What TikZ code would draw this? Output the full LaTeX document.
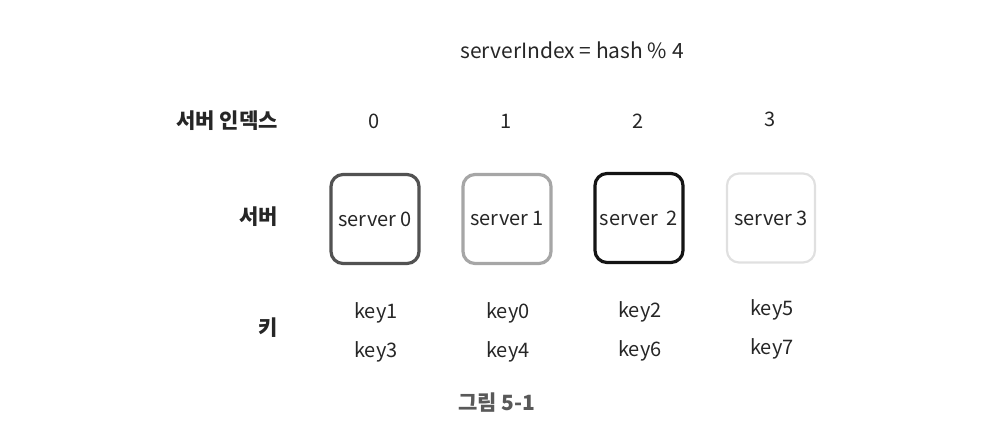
\documentclass[tikz,border=0pt]{standalone}
\usepackage{fontspec}
\setmainfont{Noto Sans CJK KR}
\begin{document}
\begin{tikzpicture}[x=1pt,y=-1pt,
  txt/.style={font=\fontsize{20}{24}\selectfont, inner sep=0pt, text=black!85},
  lbl/.style={font=\fontsize{21}{24}\selectfont\bfseries, inner sep=0pt, anchor=east, text=black!85},
  srv/.style={draw, rounded corners=12pt, minimum width=88pt, minimum height=89pt, inner sep=0pt, font=\fontsize{20}{24}\selectfont, text=black!85}]
\useasboundingbox (0,0) rectangle (996,446);
\node[txt, font=\fontsize{21}{24}\selectfont] (title) at (572,50) {serverIndex = hash \% 4};
\node[lbl] (lidx) at (278,121) {서버 인덱스};
\node[lbl] (lsrv) at (278,217) {서버};
\node[lbl] (lkey) at (278,328) {키};
\node[txt] (i0) at (374,121) {0};
\node[txt] (i1) at (506,121) {1};
\node[txt] (i2) at (638,121) {2};
\node[txt] (i3) at (770,119) {3};
\node[srv, draw=black!68, line width=3.2pt] (s0) at (375,219) {server 0};
\node[srv, draw=black!35, line width=3.2pt] (s1) at (507,219) {server 1};
\node[srv, draw=black!92, line width=3.2pt] (s2) at (639,218) {server\ \ 2};
\node[srv, draw=black!12, line width=2.2pt] (s3) at (771,218) {server 3};
\node[txt] (k1) at (376,313) {key1};
\node[txt] (k3) at (376,352) {key3};
\node[txt] (k0) at (508,313) {key0};
\node[txt] (k4) at (508,352) {key4};
\node[txt] (k2) at (640,312) {key2};
\node[txt] (k6) at (640,351) {key6};
\node[txt] (k5) at (772,310) {key5};
\node[txt] (k7) at (772,349) {key7};
\node[font=\fontsize{21}{24}\selectfont\bfseries, text=black!65, inner sep=0pt] (cap) at (497,403) {그림 5-1};
\end{tikzpicture}
\end{document}
